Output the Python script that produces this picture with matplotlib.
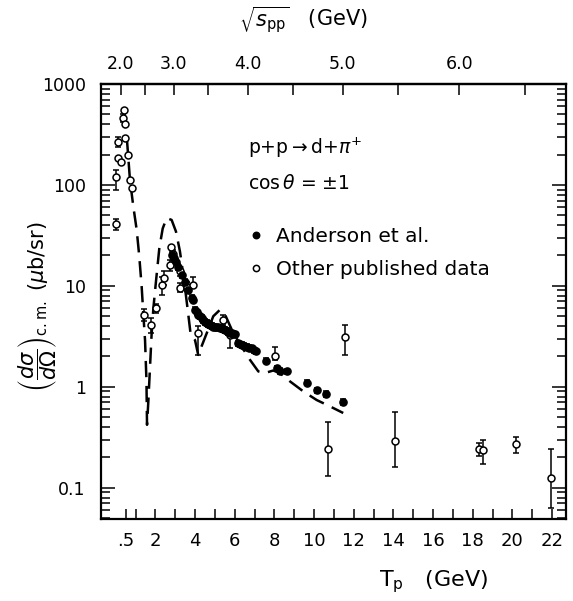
import numpy as np
import matplotlib
matplotlib.use("Agg")
import matplotlib.pyplot as plt
from matplotlib.ticker import FixedLocator, FixedFormatter, NullFormatter

plt.rcParams["font.family"] = ["DejaVu Sans"]
plt.rcParams["mathtext.fontset"] = "dejavusans"

M_P = 0.938  # proton mass (GeV)

# Anderson et al. (filled circles)
anderson_tp = [2.82, 2.94, 3.04, 3.16, 3.33, 3.49, 3.66, 3.83, 3.91, 4.0, 4.08, 4.16,
               4.25, 4.33, 4.42, 4.5, 4.58, 4.67, 4.75, 4.84, 4.92, 5.0, 5.08, 5.17,
               5.25, 5.34, 5.42, 5.51, 5.6, 5.68, 5.77, 5.85, 5.93, 6.01, 6.18, 6.27,
               6.35, 6.48, 6.6, 6.72, 6.85, 6.95, 7.07, 7.58, 8.11, 8.28, 8.62, 9.63,
               10.13, 10.6, 11.44]
anderson_val = [20.4, 18.8, 17.3, 15.4, 12.8, 11.0, 9.1, 7.6, 7.3, 5.8, 5.5, 5.2,
                5.0, 4.8, 4.6, 4.4, 4.3, 4.2, 4.1, 4.0, 3.95, 3.9, 3.9, 3.9,
                3.85, 3.8, 3.7, 3.65, 3.6, 3.5, 3.45, 3.4, 3.35, 3.3, 2.7, 2.65,
                2.6, 2.55, 2.5, 2.45, 2.4, 2.3, 2.24, 1.82, 1.53, 1.44, 1.42, 1.10,
                0.92, 0.85, 0.71]

# other published data (open circles) with error bar ends
other_tp = [0.00, 0.00, 0.13, 0.27, 0.13, 0.42, 0.38, 0.47, 0.47, 0.64, 0.72, 0.81,
            1.44, 1.78, 2.03, 2.32, 2.43, 2.77, 2.87, 2.74, 3.24, 3.24, 3.61, 3.88,
            4.16, 5.42, 5.76, 8.03, 11.56, 10.7, 14.08, 18.31, 18.5, 20.18, 21.94]
other_val = [41, 121, 184, 170, 268, 553, 457, 399, 290, 198, 112, 93,
             5.2, 4.1, 6.0, 10.2, 12.1, 24.5, 20.6, 16.1, 9.6, 13.9, 9.8, 10.2,
             3.4, 4.6, 3.27, 2.0, 3.1, 0.24, 0.29, 0.24, 0.238, 0.27, 0.125]
other_lo = [36, 89, 184, 170, 240, 553, 420, 399, 290, 198, 112, 93,
            4.5, 3.4, 5.4, 8.2, 10.1, 24.5, 18.6, 14.1, 8.6, 12.4, 8.8, 10.2,
            2.07, 4.1, 2.4, 1.86, 2.07, 0.13, 0.16, 0.206, 0.17, 0.22, 0.063]
other_hi = [46, 141, 184, 170, 300, 553, 500, 399, 290, 198, 112, 93,
            5.9, 4.8, 6.6, 12.2, 14.1, 24.5, 22.6, 18.1, 10.6, 15.4, 10.8, 12.3,
            4.0, 5.2, 3.5, 2.5, 4.1, 0.45, 0.56, 0.275, 0.30, 0.32, 0.24]

# dashed theoretical curve
theory_tp = [0.42, 0.57, 0.72, 0.89, 1.06, 1.19, 1.31, 1.39, 1.48, 1.55, 1.58, 1.65,
             1.81, 1.90, 2.03, 2.20, 2.37, 2.57, 2.82, 3.04, 3.24, 3.41, 3.54, 3.66,
             3.78, 4.0, 4.16, 4.59, 4.92, 5.26, 5.51, 5.93, 6.35, 6.77, 7.19, 7.53,
             7.94, 8.28, 8.79, 9.46, 10.13, 10.8, 11.47]
theory_val = [528, 279, 112, 61, 35.8, 19.5, 9.8, 5.4, 2.9, 1.17, 0.42, 0.74,
              3.3, 6.0, 11.0, 23.6, 37, 47, 45, 34.5, 21.9, 12.8, 8.1, 5.2,
              3.3, 2.9, 2.07, 3.4, 5.0, 5.8, 5.2, 3.4, 2.5, 1.85, 1.42, 1.37,
              1.45, 1.37, 1.13, 0.90, 0.74, 0.64, 0.55]

x_major = [0.5, 2, 4, 6, 8, 10, 12, 14, 16, 18, 20, 22]
x_labels = [".5", "2", "4", "6", "8", "10", "12", "14", "16", "18", "20", "22"]
x_minor = [1, 3, 5, 7, 9, 11, 13, 15, 17, 19, 21]
y_major = [0.1, 1, 10, 100, 1000]
y_labels = ["0.1", "1", "10", "100", "1000"]
top_major = [2.0, 3.0, 4.0, 5.0, 6.0]
top_labels = ["2.0", "3.0", "4.0", "5.0", "6.0"]
top_minor = [2.5, 3.5, 4.5, 5.5, 6.5]


def to_sqrt_s(tp):
    return np.sqrt(np.clip(4 * M_P**2 + 2 * M_P * np.asarray(tp, float), 1e-6, None))


def to_tp(rs):
    return (np.asarray(rs, float) ** 2 - 4 * M_P**2) / (2 * M_P)


fig = plt.figure(figsize=(5.73, 6.01), dpi=100)
ax = fig.add_axes([101 / 573, 1 - 519 / 601, 465 / 573, 435 / 601])

ax.plot(theory_tp, theory_val, color="black", lw=1.8, dashes=(6.5, 3.5), zorder=2)

other_val_a = np.array(other_val)
yerr = [other_val_a - np.array(other_lo), np.array(other_hi) - other_val_a]
ax.errorbar(other_tp, other_val, yerr=yerr, fmt="none", ecolor="black",
            elinewidth=1.1, capsize=2.5, capthick=1.1, zorder=3)
and_val = np.array(anderson_val)
ax.errorbar(anderson_tp, anderson_val, yerr=0.06 * and_val, fmt="none",
            ecolor="black", elinewidth=1.1, capsize=2.5, capthick=1.1, zorder=3)

h_and, = ax.plot(anderson_tp, anderson_val, "o", color="black", ms=5.2, ls="none",
                 zorder=5, label="Anderson et al.")
h_oth, = ax.plot(other_tp, other_val, "o", mfc="white", mec="black", ms=5,
                 mew=1.1, ls="none", zorder=4, label="Other published data")

ax.set_yscale("log")
ax.set_ylim(0.049, 1000)
ax.set_xlim(-0.74, 22.7)

ax.xaxis.set_major_locator(FixedLocator(x_major))
ax.xaxis.set_major_formatter(FixedFormatter(x_labels))
ax.xaxis.set_minor_locator(FixedLocator(x_minor))
ax.xaxis.set_minor_formatter(NullFormatter())
ax.yaxis.set_major_locator(FixedLocator(y_major))
ax.yaxis.set_major_formatter(FixedFormatter(y_labels))

ax.tick_params(axis="x", which="both", direction="in", length=7, width=1.1,
               labelsize=13, pad=9, top=False)
ax.tick_params(axis="y", which="major", direction="in", length=10, width=1.1,
               labelsize=12.5, pad=11, left=True, right=True)
ax.tick_params(axis="y", which="minor", direction="in", length=6.5, width=1.1,
               left=True, right=True)
for s in ax.spines.values():
    s.set_linewidth(1.6)

top = ax.secondary_xaxis("top", functions=(to_sqrt_s, to_tp))
top.xaxis.set_major_locator(FixedLocator(top_major))
top.xaxis.set_major_formatter(FixedFormatter(top_labels))
top.xaxis.set_minor_locator(FixedLocator(top_minor))
top.xaxis.set_minor_formatter(NullFormatter())
top.tick_params(which="both", direction="in", length=8, width=1.1,
                labelsize=12.5, pad=8)
top.spines["top"].set_linewidth(1.6)

fig.text(303 / 573, 1 - 20 / 601, r"$\sqrt{s_{\rm pp}}$   (GeV)", fontsize=15,
         ha="center", va="center")
fig.text(434 / 573, 1 - 582 / 601, r"T$_{\rm p}$   (GeV)", fontsize=16,
         ha="center", va="center")
fig.text(38 / 573, 1 - 307 / 601,
         r"$\left(\dfrac{d\sigma}{d\Omega}\right)_{\rm c.m.}$ ($\mu$b/sr)",
         fontsize=15, rotation=90, ha="center", va="center")

ax.text(0.316, 0.853, r"p+p$\rightarrow$d+$\pi^{+}$", transform=ax.transAxes,
        fontsize=13.5, ha="left", va="center")
ax.text(0.316, 0.772, r"cos$\,\theta$ = $\pm$1", transform=ax.transAxes,
        fontsize=13.5, ha="left", va="center")

ax.legend(handles=[h_and, h_oth], loc="upper left", bbox_to_anchor=(0.318, 0.672),
          frameon=False, fontsize=14.5, handlelength=0.7, handletextpad=0.65,
          labelspacing=0.7, borderpad=0, borderaxespad=0, markerscale=0.9)

fig.savefig("out.png", dpi=100)
